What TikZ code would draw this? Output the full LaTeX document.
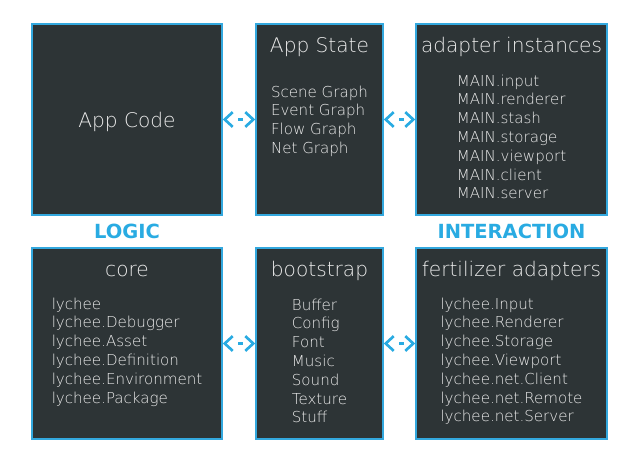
\documentclass[tikz,border=0pt]{standalone}
\usepackage{fontspec}
\setmainfont{DejaVu Sans ExtraLight}
\newfontfamily\tagfont{DejaVu Sans}
\usetikzlibrary{arrows.meta}

\definecolor{boxfill}{RGB}{45,52,54}
\definecolor{boxline}{RGB}{51,168,222}
\definecolor{tagblue}{RGB}{41,171,226}
\definecolor{ink}{RGB}{236,236,236}

\tikzset{
	box/.style={draw=boxline, fill=boxfill, line width=1.1pt, minimum height=143.25pt, inner sep=0pt},
	title/.style={text=ink, font=\fontsize{15.1}{18}\selectfont, anchor=base, inner sep=0pt},
	items/.style={text=ink, font=\fontsize{11.3}{14.1}\selectfont, anchor=base, inner sep=0pt},
	tag/.style={text=tagblue, font=\tagfont\bfseries\fontsize{14.6}{18}\selectfont, anchor=base, inner sep=0pt},
	link/.style={draw=tagblue, line width=2pt, {Straight Barb[length=6pt,width=11pt]}-{Straight Barb[length=6pt,width=11pt]}, dash pattern=on 4pt off 30pt, dash phase=25pt}
}

\begin{document}
\begin{tikzpicture}[x=0.75pt, y=-0.75pt]
	\fill[white] (0,0) rectangle (640,462);
	\useasboundingbox (0,0) rectangle (640,462);

	% top row
	\node[box, minimum width=142.5pt, text=ink, text depth=0pt, font=\fontsize{15.1}{18}\selectfont] (appcode) at (127,119.5) {App Code};
	\node[box, minimum width=95.25pt] (appstate) at (319.5,119.5) {};
	\node[box, minimum width=143.25pt] (adapters) at (511.5,119.5) {};

	\node[title] (statetitle) at (319.5,52) {App State};
	\node[items] (statelist) at (319.5,97) {\begin{tabular}[t]{@{}l@{}}
		Scene Graph\\ Event Graph\\ Flow Graph\\ Net Graph
	\end{tabular}};

	\node[title] (adapterstitle) at (511.5,52) {adapter instances};
	\node[items] (adapterslist) at (511.5,86) {\begin{tabular}[t]{@{}l@{}}
		MAIN.input\\ MAIN.renderer\\ MAIN.stash\\ MAIN.storage\\ MAIN.viewport\\ MAIN.client\\ MAIN.server
	\end{tabular}};

	% labels
	\node[tag] (logic) at (127,238) {LOGIC};
	\node[tag] (interaction) at (511.5,238) {INTERACTION};

	% bottom row
	\node[box, minimum width=142.5pt] (core) at (127,343.5) {};
	\node[box, minimum width=95.25pt] (bootstrap) at (319.5,343.5) {};
	\node[box, minimum width=143.25pt] (fertilizer) at (511.5,343.5) {};

	\node[title] (coretitle) at (127,276) {core};
	\node[items] (corelist) at (127,309) {\begin{tabular}[t]{@{}l@{}}
		lychee\\ lychee.Debugger\\ lychee.Asset\\ lychee.Definition\\ lychee.Environment\\ lychee.Package
	\end{tabular}};

	\node[title] (boottitle) at (319.5,276) {bootstrap};
	\node[items] (bootlist) at (319.5,310) {\begin{tabular}[t]{@{}l@{}}
		Buffer\\ Config\\ Font\\ Music\\ Sound\\ Texture\\ Stuff
	\end{tabular}};

	\node[title] (fertilizertitle) at (511.5,276) {fertilizer adapters};
	\node[items] (fertilizerlist) at (511.5,309) {\begin{tabular}[t]{@{}l@{}}
		lychee.Input\\ lychee.Renderer\\ lychee.Storage\\ lychee.Viewport\\ lychee.net.Client\\ lychee.net.Remote\\ lychee.net.Server
	\end{tabular}};

	% connectors
	\draw[link] (appcode.east) -- (appstate.west);
	\draw[link] (appstate.east) -- (adapters.west);
	\draw[link] (core.east) -- (bootstrap.west);
	\draw[link] (bootstrap.east) -- (fertilizer.west);
\end{tikzpicture}
\end{document}
